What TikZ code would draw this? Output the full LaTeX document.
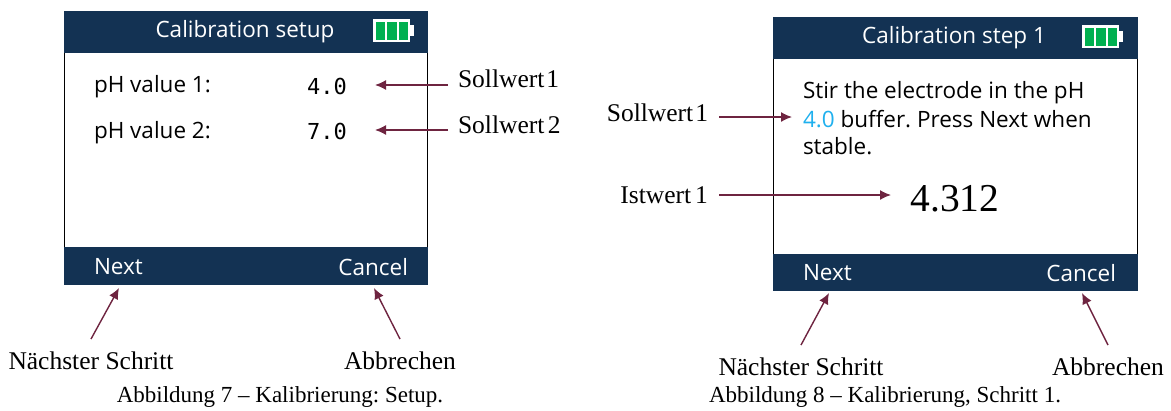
\documentclass[tikz,border=0pt]{standalone}
\usepackage{fontspec}
\setmainfont{Liberation Serif}
\newfontfamily\uifont{Open Sans}
\newfontfamily\monofont{DejaVu Sans Mono}
\usetikzlibrary{arrows.meta}
\definecolor{navy}{HTML}{133253}
\definecolor{wine}{HTML}{6E2440}
\definecolor{batgreen}{HTML}{00B050}
\definecolor{cyanv}{HTML}{1FB0EE}
\tikzset{
  x=1pt,y=-1pt,
  every node/.style={inner sep=0pt,outer sep=0pt},
  screen/.style={draw=black,line width=1.4pt,fill=white},
  bar/.style={fill=navy},
  uitext/.style={font=\uifont\fontsize{22.5}{26}\selectfont},
  barlabel/.style={font=\uifont\fontsize{22.5}{26}\selectfont,text=white},
  monoval/.style={font=\monofont\fontsize{22}{26}\selectfont},
  note/.style={font=\fontsize{25.5}{29}\selectfont},
  caption/.style={font=\fontsize{23}{27}\selectfont},
  arr/.style={draw=wine,line width=1.4pt,-{Latex[length=11pt,width=10pt]}},
}
\newcommand{\batt}[2]{%
  \fill[white] (#1,#2) rectangle +(37,23);
  \fill[white] (#1+37,#2+6) rectangle +(4,11);
  \fill[batgreen] (#1+2.5,#2+2.5) rectangle +(9.5,18);
  \fill[batgreen] (#1+14,#2+2.5) rectangle +(9.5,18);
  \fill[batgreen] (#1+25.5,#2+2.5) rectangle +(9.5,18);
}
\begin{document}
\begin{tikzpicture}
\frenchspacing
\useasboundingbox (0,0) rectangle (1171,410);
% left screen
\draw[screen] (64.5,11.5) rectangle (427.5,284.5);
\fill[bar] (64,11) rectangle (428,53);
\fill[bar] (64,247) rectangle (428,285);
\batt{373}{19}
\node[barlabel,anchor=center] (lt) at (245,32) {Calibration setup};
\node[uitext,anchor=west] (lp1) at (94,87) {pH value 1:};
\node[uitext,anchor=west] (lp2) at (94,133) {pH value 2:};
\node[monoval,anchor=center] (lv1) at (327,86) {4.0};
\node[monoval,anchor=center] (lv2) at (327,131) {7.0};
\node[barlabel,anchor=west] (ln) at (94,267) {Next};
\node[barlabel,anchor=east] (lc) at (408,267) {Cancel};
\node[note,anchor=west] (ls1) at (458,79) {\spaceskip=2pt Sollwert 1};
\node[note,anchor=west] (ls2) at (458,125) {\spaceskip=3.5pt Sollwert 2};
\node[note,anchor=center] (lns) at (91,361) {Nächster Schritt};
\node[note,anchor=center] (lab) at (400,361) {Abbrechen};
\node[caption,anchor=center] (lcap) at (280,397) {Abbildung 7 – Kalibrierung: Setup.};
\coordinate (ta1) at (375,85);
\coordinate (ta2) at (375,130);
\coordinate (tan) at (119,288);
\coordinate (tac) at (374,288);
\draw[arr] ([xshift=-10pt]ls1.west |- ta1) -- (ta1);
\draw[arr] ([xshift=-10pt]ls2.west |- ta2) -- (ta2);
\draw[arr] ([yshift=13pt]lns.north) -- (tan);
\draw[arr] ([yshift=13pt]lab.north) -- (tac);
% right screen
\draw[screen] (773.5,17.5) rectangle (1137.5,290.5);
\fill[bar] (773,17) rectangle (1138,59);
\fill[bar] (773,254) rectangle (1138,291);
\batt{1082}{25}
\node[barlabel,anchor=center] (rt) at (954,38) {Calibration step 1};
\node[uitext,anchor=west] (rl1) at (803,92.5) {Stir the electrode in the pH};
\node[uitext,anchor=west] (rl2) at (803,119.5) {{\color{cyanv}4.0} buffer. Press Next when};
\node[uitext,anchor=west] (rl3) at (803,146.5) {stable.};
\node[font=\fontsize{39.5}{44}\selectfont,anchor=center] (rv) at (955,199) {4.312};
\node[barlabel,anchor=west] (rn) at (803,273) {Next};
\node[barlabel,anchor=east] (rc) at (1116,273) {Cancel};
\node[note,anchor=east] (rs1) at (708,113) {\spaceskip=2pt Sollwert 1};
\node[note,anchor=east] (ri1) at (708,195) {\spaceskip=4pt Istwert 1};
\node[note,anchor=center] (rns) at (801,367) {Nächster Schritt};
\node[note,anchor=center] (rab) at (1108,367) {Abbrechen};
\node[caption,anchor=center] (rcap) at (885,397) {Abbildung 8 – Kalibrierung, Schritt 1.};
\coordinate (tb1) at (792,117);
\coordinate (tb2) at (891,195);
\coordinate (tbn) at (829,293);
\coordinate (tbc) at (1082,293);
\draw[arr] ([xshift=11pt]rs1.east |- tb1) -- (tb1);
\draw[arr] ([xshift=11pt]ri1.east |- tb2) -- (tb2);
\draw[arr] ([yshift=13pt]rns.north) -- (tbn);
\draw[arr] ([yshift=13pt]rab.north) -- (tbc);
\end{tikzpicture}
\end{document}
